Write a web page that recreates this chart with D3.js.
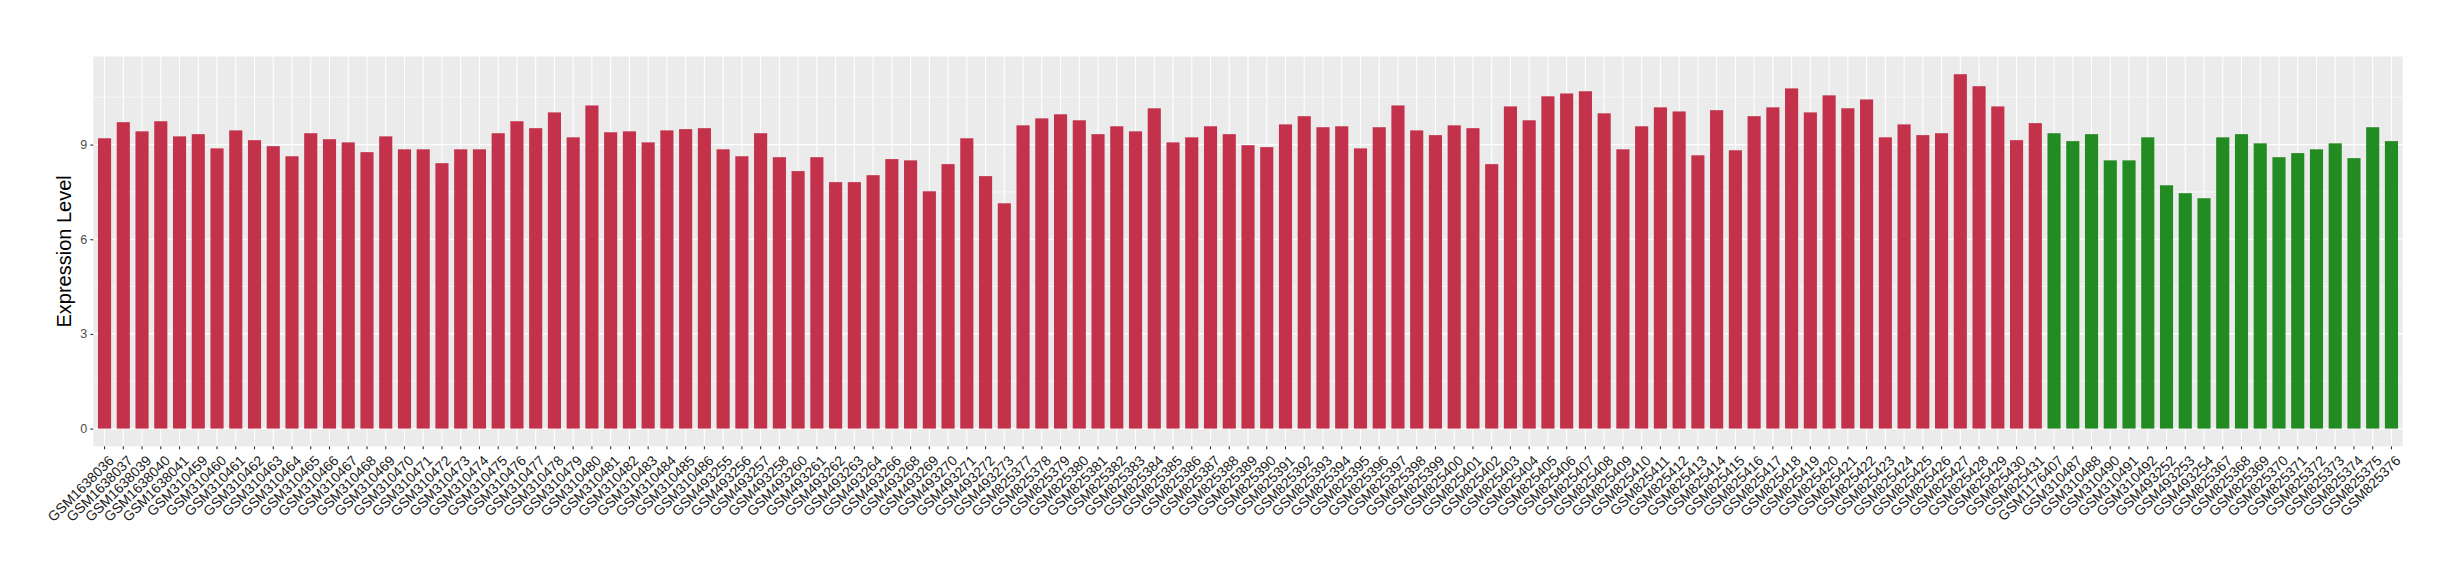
<!DOCTYPE html>
<html>
<head>
<meta charset="utf-8">
<script src="https://cdn.jsdelivr.net/npm/d3@7"></script>
<style>
  html, body { margin: 0; padding: 0; background: #fff; }
  svg { display: block; font-family: "Liberation Sans", Arial, sans-serif; }
</style>
</head>
<body>
<div id="chart"></div>
<script>
const caseIds = [
  "GSM1638036", "GSM1638037", "GSM1638039", "GSM1638040", "GSM1638041",
  "GSM310459", "GSM310460", "GSM310461", "GSM310462", "GSM310463", "GSM310464", "GSM310465",
  "GSM310466", "GSM310467", "GSM310468", "GSM310469", "GSM310470", "GSM310471", "GSM310472",
  "GSM310473", "GSM310474", "GSM310475", "GSM310476", "GSM310477", "GSM310478", "GSM310479",
  "GSM310480", "GSM310481", "GSM310482", "GSM310483", "GSM310484", "GSM310485", "GSM310486",
  "GSM493255", "GSM493256", "GSM493257", "GSM493258", "GSM493260", "GSM493261", "GSM493262",
  "GSM493263", "GSM493264", "GSM493266", "GSM493268", "GSM493269", "GSM493270", "GSM493271",
  "GSM493272", "GSM493273",
  "GSM825377", "GSM825378", "GSM825379", "GSM825380", "GSM825381", "GSM825382", "GSM825383",
  "GSM825384", "GSM825385", "GSM825386", "GSM825387", "GSM825388", "GSM825389", "GSM825390",
  "GSM825391", "GSM825392", "GSM825393", "GSM825394", "GSM825395", "GSM825396", "GSM825397",
  "GSM825398", "GSM825399", "GSM825400", "GSM825401", "GSM825402", "GSM825403", "GSM825404",
  "GSM825405", "GSM825406", "GSM825407", "GSM825408", "GSM825409", "GSM825410", "GSM825411",
  "GSM825412", "GSM825413", "GSM825414", "GSM825415", "GSM825416", "GSM825417", "GSM825418",
  "GSM825419", "GSM825420", "GSM825421", "GSM825422", "GSM825423", "GSM825424", "GSM825425",
  "GSM825426", "GSM825427", "GSM825428", "GSM825429", "GSM825430", "GSM825431"
];
const caseValues = [
  9.20, 9.71, 9.42, 9.74, 9.26,
  9.33, 8.88, 9.45, 9.14, 8.95, 8.63, 9.36,
  9.17, 9.07, 8.76, 9.26, 8.85, 8.85, 8.41,
  8.85, 8.85, 9.36, 9.74, 9.52, 10.02, 9.23,
  10.24, 9.39, 9.42, 9.07, 9.45, 9.49, 9.52,
  8.85, 8.63, 9.36, 8.60, 8.16, 8.60, 7.81,
  7.81, 8.03, 8.54, 8.50, 7.52, 8.38, 9.20,
  8.00, 7.14,
  9.61, 9.83, 9.96, 9.77, 9.33, 9.58, 9.42,
  10.15, 9.07, 9.23, 9.58, 9.33, 8.98, 8.92,
  9.64, 9.90, 9.55, 9.58, 8.88, 9.55, 10.24,
  9.45, 9.30, 9.61, 9.52, 8.38, 10.21, 9.77,
  10.53, 10.62, 10.69, 9.99, 8.85, 9.58, 10.18,
  10.05, 8.66, 10.09, 8.82, 9.90, 10.18, 10.78,
  10.02, 10.56, 10.15, 10.43, 9.23, 9.64, 9.30,
  9.36, 11.23, 10.85, 10.21, 9.14, 9.68
];
const controlIds = [
  "GSM1176407", "GSM310487", "GSM310488", "GSM310490", "GSM310491", "GSM310492",
  "GSM493252", "GSM493253", "GSM493254",
  "GSM825367", "GSM825368", "GSM825369", "GSM825370", "GSM825371", "GSM825372",
  "GSM825373", "GSM825374", "GSM825375", "GSM825376"
];
const controlValues = [
  9.36, 9.11, 9.33, 8.50, 8.50, 9.23,
  7.71, 7.46, 7.30,
  9.23, 9.33, 9.04, 8.60, 8.73, 8.85,
  9.04, 8.57, 9.55, 9.11
];
const yTicks = [0, 3, 6, 9];
const yMinorTicks = [1.5, 4.5, 7.5, 10.5];

const data = caseIds.map((id, i) => ({ id, value: caseValues[i], group: "case" }))
  .concat(controlIds.map((id, i) => ({ id, value: controlValues[i], group: "control" })));

const W = 2460, H = 580;
const margin = { top: 56.5, right: 57.3, bottom: 133.7, left: 93.3 };
const width = W - margin.left - margin.right;
const height = H - margin.top - margin.bottom;

const root = d3.select("#chart")
  .append("svg")
  .attr("width", W)
  .attr("height", H);

root.append("rect").attr("width", W).attr("height", H).attr("fill", "#fff");

const svg = root.append("g")
  .attr("transform", `translate(${margin.left},${margin.top})`);

const color = d3.scaleOrdinal()
  .domain(["case", "control"])
  .range(["#C3314A", "#228B22"]);

const yMax = d3.max(data, d => d.value);
const pad = yMax * 0.05;

const x = d3.scaleBand()
  .domain(data.map(d => d.id))
  .range([0, width])
  .paddingInner(0.3)
  .paddingOuter(0.25);

const y = d3.scaleLinear()
  .domain([-pad, yMax + pad])
  .range([height, 0]);

// panel background
svg.append("rect")
  .attr("width", width)
  .attr("height", height)
  .attr("fill", "#EBEBEB");

// minor grid
svg.append("g")
  .selectAll("line")
  .data(yMinorTicks)
  .join("line")
  .attr("x1", 0).attr("x2", width)
  .attr("y1", d => y(d)).attr("y2", d => y(d))
  .attr("stroke", "#fff")
  .attr("stroke-width", 0.6);

// major grid
svg.append("g")
  .selectAll("line")
  .data(yTicks)
  .join("line")
  .attr("x1", 0).attr("x2", width)
  .attr("y1", d => y(d)).attr("y2", d => y(d))
  .attr("stroke", "#fff")
  .attr("stroke-width", 1.1);

svg.append("g")
  .selectAll("line")
  .data(data)
  .join("line")
  .attr("x1", d => x(d.id) + x.bandwidth() / 2)
  .attr("x2", d => x(d.id) + x.bandwidth() / 2)
  .attr("y1", 0).attr("y2", height)
  .attr("stroke", "#fff")
  .attr("stroke-width", 1.1);

// bars
svg.append("g")
  .selectAll("rect")
  .data(data)
  .join("rect")
  .attr("x", d => x(d.id))
  .attr("width", x.bandwidth())
  .attr("y", d => y(d.value))
  .attr("height", d => y(0) - y(d.value))
  .attr("fill", d => color(d.group));

// y axis
const yAxis = svg.append("g")
  .call(d3.axisLeft(y).tickValues(yTicks).tickSize(3).tickPadding(3).tickFormat(d3.format("d")));
yAxis.select(".domain").remove();
yAxis.selectAll("line").attr("stroke", "#333").attr("stroke-width", 1.1);
yAxis.selectAll("text")
  .attr("fill", "#4D4D4D")
  .attr("font-size", "12.5px")
  .attr("font-family", "Liberation Sans, Arial, sans-serif");

// x axis
const xAxis = svg.append("g")
  .attr("transform", `translate(0,${height})`)
  .call(d3.axisBottom(x).tickSize(3).tickPadding(0));
xAxis.select(".domain").remove();
xAxis.selectAll("line").attr("stroke", "#333").attr("stroke-width", 1.1);
xAxis.selectAll("text")
  .attr("fill", "#1A1A1A")
  .attr("font-size", "14px")
  .attr("font-family", "Liberation Sans, Arial, sans-serif")
  .attr("text-anchor", "end")
  .attr("dy", "0.72em")
  .attr("y", 0)
  .attr("transform", "translate(3,8) rotate(-45)");

// y axis label
svg.append("text")
  .attr("transform", "rotate(-90)")
  .attr("x", -height / 2)
  .attr("y", 71 - margin.left)
  .attr("text-anchor", "middle")
  .attr("font-size", "20px")
  .attr("fill", "#000")
  .text("Expression Level");
</script>
</body>
</html>
